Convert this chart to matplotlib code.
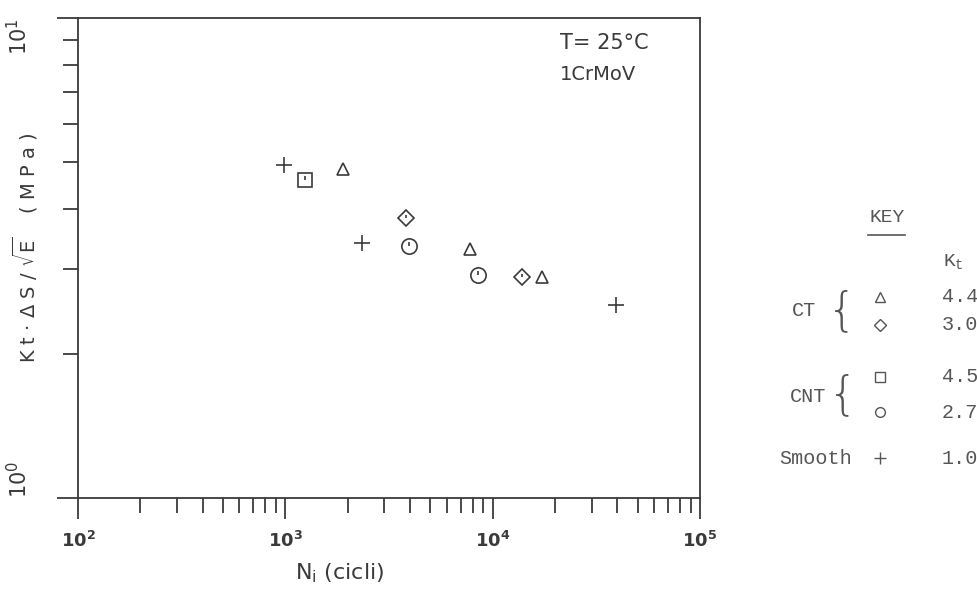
import numpy as np
import matplotlib.pyplot as plt
from matplotlib.path import Path

# data: N_i (cycles) and Kt*dS/sqrt(E) (MPa)
ct44_n = [1900, 7800, 17300]
ct44_s = [4.84, 3.30, 2.89]
ct30_n = [3800, 13800]
ct30_s = [3.84, 2.88]
cnt45_n = [1240]
cnt45_s = [4.60]
cnt27_n = [3950, 8450]
cnt27_s = [3.35, 2.91]
smooth_n = [980, 2350, 39500]
smooth_s = [4.94, 3.40, 2.52]

key_groups = ['CT', 'CNT']
key_kt = ['4.4', '3.0', '4.5', '2.7', '1.0']

ink = '#3a3a3a'
grey = '#555555'

fig = plt.figure(figsize=(9.78, 5.90), dpi=100)
ax = fig.add_axes([78/978, 1-498/590, (700-78)/978, (498-18)/590])
ax.set_xscale('log')
ax.set_yscale('log')
ax.set_xlim(1e2, 1e5)
ax.set_ylim(1e0, 1e1)

for s in ax.spines.values():
    s.set_color(ink)
    s.set_linewidth(1.3)

# little "clock hand" drawn inside some symbols
hand = Path([(0, 0), (0, 1)], [Path.MOVETO, Path.LINETO])

kw = dict(linestyle='none', markerfacecolor='none', markeredgecolor=ink, markeredgewidth=1.2)
ax.plot(ct44_n, ct44_s, marker='^', markersize=9, **kw)
ax.plot(ct30_n, ct30_s, marker='D', markersize=8, **kw)
ax.plot(ct30_n, ct30_s, marker=hand, markersize=5, **kw)
ax.plot(cnt45_n, cnt45_s, marker='s', markersize=10, **kw)
ax.plot(cnt45_n, cnt45_s, marker=hand, markersize=6, **kw)
ax.plot(cnt27_n, cnt27_s, marker='o', markersize=11, **kw)
ax.plot(cnt27_n, cnt27_s, marker=hand, markersize=6, **kw)
ax.plot(smooth_n, smooth_s, marker='+', markersize=11, **kw)

# ticks
ax.set_xticks([1e2, 1e3, 1e4, 1e5])
ax.set_xticklabels(['$\\mathbf{10^2}$', '$\\mathbf{10^3}$', '$\\mathbf{10^4}$', '$\\mathbf{10^5}$'])
ax.set_yticks([1e0, 1e1])
ax.set_yticklabels(['$10^0$', '$10^1$'], rotation=90)
ax.tick_params(which='major', direction='out', length=15, width=1.3, color=ink, labelcolor=ink)
ax.tick_params(which='minor', direction='out', length=11, width=1.3, color=ink)
ax.tick_params(axis='x', which='major', labelsize=13, pad=9)
ax.tick_params(axis='y', which='major', labelsize=15, pad=19)
ax.tick_params(axis='y', which='minor', labelleft=False)
ax.tick_params(axis='x', which='minor', labelbottom=False)
ylabs = ax.get_yticklabels()
ylabs[0].set_va('bottom')
ylabs[1].set_va('top')

fig.text(25/978, 1-248/590, r'K t · Δ S / $\sqrt{\mathrm{E}}$    ( M P a )', rotation=90,
         ha='center', va='center', fontsize=14, color=ink)
fig.text(340/978, 1-573/590, r'N$_\mathrm{i}$ (cicli)', ha='center', va='center',
         fontsize=16, color=ink)

ax.text(560/978, 1-43/590, 'T= 25°C', transform=fig.transFigure, fontsize=15, color=ink,
        va='center', ha='left')
ax.text(560/978, 1-74/590, '1CrMoV', transform=fig.transFigure, fontsize=14, color=ink,
        va='center', ha='left')

# key on the right
mono = 'Liberation Mono'
def fx(x):
    return x/978
def fy(y):
    return 1-y/590

fig.text(fx(887), fy(218), 'KEY', family=mono, fontsize=14, color=grey, ha='center', va='center')
fig.add_artist(plt.Line2D([fx(868), fx(905)], [fy(235), fy(235)], color=grey, lw=1.2))
fig.text(fx(953), fy(262), 'K$_\\mathregular{t}$', family=mono, fontsize=14, color=grey,
         ha='center', va='center')

rows_y = [297, 325, 377, 412, 458]
markers = ['^', 'D', 's', 'o', '+']
msizes = [7, 6, 7, 7, 8]
for y, m, ms, kt in zip(rows_y, markers, msizes, key_kt):
    fig.add_artist(plt.Line2D([fx(880)], [fy(y)], marker=m, markersize=ms, linestyle='none',
                              markerfacecolor='none', markeredgecolor=grey, markeredgewidth=1.0))
    fig.text(fx(960), fy(y), kt, family=mono, fontsize=14.5, color=grey, ha='center', va='center')

fig.text(fx(804), fy(310), key_groups[0], family=mono, fontsize=14.5, color=grey, ha='center', va='center')
fig.text(fx(808), fy(397), key_groups[1], family=mono, fontsize=14.5, color=grey, ha='center', va='center')
fig.text(fx(842), fy(311), '{', family='DejaVu Sans', fontsize=34, color=grey, ha='center',
         va='center', fontweight='light')
fig.text(fx(843), fy(395), '{', family='DejaVu Sans', fontsize=34, color=grey, ha='center',
         va='center', fontweight='light')
fig.text(fx(816), fy(458), 'Smooth', family=mono, fontsize=14.5, color=grey, ha='center', va='center')

fig.savefig('out.png', dpi=100)
